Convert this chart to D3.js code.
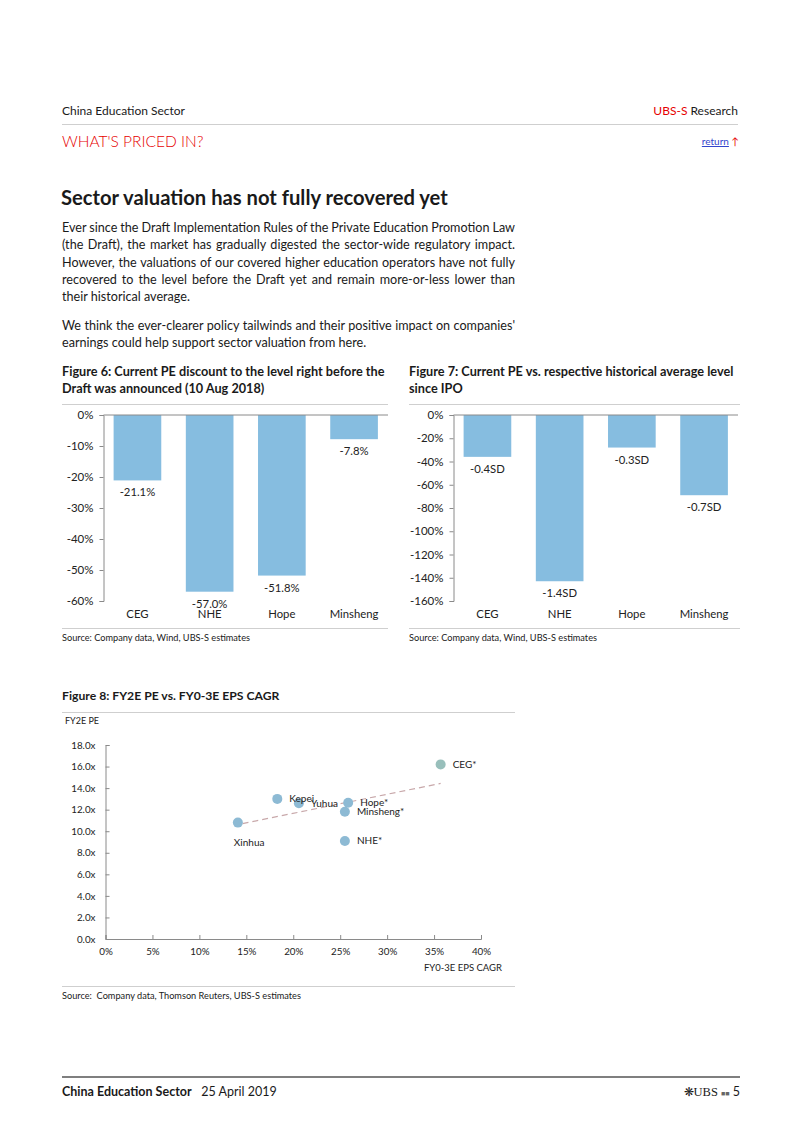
<!DOCTYPE html>
<html>
<head>
<meta charset="utf-8">
<script src="https://cdn.jsdelivr.net/npm/d3@7"></script>
<style>
  html, body { margin: 0; padding: 0; background: #fff; }
  #page { position: relative; width: 802px; height: 1133px; overflow: hidden; font-family: "Lato", "Open Sans", sans-serif; color: #1a1a1a; }
  .abs { position: absolute; white-space: nowrap; }
  .para div { white-space: nowrap; height: 17.3px; line-height: 17.3px; }
  svg { position: absolute; left: 0; top: 0; }
</style>
</head>
<body>
<div id="page">
  <div class="abs" style="left:62px; top:103px; font-size:12px;">China Education Sector</div>
  <div class="abs" style="right:64px; top:103px; font-size:12px;"><span style="color:#e60000">UBS-S</span> Research</div>
  <div class="abs" style="left:62px; top:132px; font-size:15.5px; color:#e60000; font-weight:300;">WHAT'S PRICED IN?</div>
  <div class="abs" style="right:63px; top:135px; font-size:10px;"><span style="color:#3344cc; text-decoration:underline;">return</span> <span style="color:#e60000">&#8593;</span></div>
  <div class="abs" style="left:61px; top:185px; font-size:20.2px; font-weight:bold;">Sector valuation has not fully recovered yet</div>
  <div class="abs para" style="left:62px; top:219px; font-size:12.6px;">
    <div class="j">Ever since the Draft Implementation Rules of the Private Education Promotion Law</div>
    <div class="j">(the Draft), the market has gradually digested the sector-wide regulatory impact.</div>
    <div class="j">However, the valuations of our covered higher education operators have not fully</div>
    <div class="j">recovered to the level before the Draft yet and remain more-or-less lower than</div>
    <div>their historical average.</div>
  </div>
  <div class="abs para" style="left:62px; top:317px; font-size:12.6px;">
    <div class="j">We think the ever-clearer policy tailwinds and their positive impact on companies'</div>
    <div>earnings could help support sector valuation from here.</div>
  </div>
  <div class="abs" style="left:62px; top:363px; font-size:12.7px; font-weight:bold; line-height:17px;">Figure 6: Current PE discount to the level right before the<br>Draft was announced (10 Aug 2018)</div>
  <div class="abs" style="left:409px; top:363px; font-size:12.7px; font-weight:bold; line-height:17px;">Figure 7: Current PE vs. respective historical average level<br>since IPO</div>
  <div class="abs" style="left:62px; top:632px; font-size:9.2px;">Source: Company data, Wind, UBS-S estimates</div>
  <div class="abs" style="left:409px; top:632px; font-size:9.2px;">Source: Company data, Wind, UBS-S estimates</div>
  <div class="abs" style="left:62px; top:688px; font-size:12.2px; font-weight:bold;">Figure 8: FY2E PE vs. FY0-3E EPS CAGR</div>
  <div class="abs" style="left:62px; top:990px; font-size:9.2px;">Source:&nbsp; Company data, Thomson Reuters, UBS-S estimates</div>
  <div class="abs" style="left:62px; top:1084px; font-size:12.5px;"><b>China Education Sector</b>&nbsp;&nbsp; 25 April 2019</div>
  <div class="abs" style="right:62px; top:1084px; font-size:12.5px;"><span style="font-size:12px;">&#10059;</span><span style="font-family:'Liberation Serif',serif;">UBS</span> <span style="font-size:7px;color:#666;">&#9632;&#9632;</span> 5</div>
  <svg id="chart" width="802" height="1133"></svg>
</div>
<script>
// ---------- DATA ----------
const categories = ["CEG", "NHE", "Hope", "Minsheng"];
const fig6Values = [-21.1, -57.0, -51.8, -7.8];
const fig6Labels = ["-21.1%", "-57.0%", "-51.8%", "-7.8%"];
const fig6Ticks = [0, -10, -20, -30, -40, -50, -60];
const fig7Values = [-36, -143, -28, -69];
const fig7Labels = ["-0.4SD", "-1.4SD", "-0.3SD", "-0.7SD"];
const fig7Ticks = [0, -20, -40, -60, -80, -100, -120, -140, -160];
const scatterNames = ["Xinhua", "Kepei", "Yuhua", "Hope*", "Minsheng*", "NHE*", "CEG*"];
const scatterCagr = [14.1, 18.3, 20.6, 25.85, 25.5, 25.5, 35.7];
const scatterPE = [10.8, 13.0, 12.6, 12.65, 11.8, 9.1, 16.2];
const scatterXTicks = [0, 5, 10, 15, 20, 25, 30, 35, 40];
const scatterYTicks = [0, 2, 4, 6, 8, 10, 12, 14, 16, 18];

// justify paragraph lines to 453px
document.querySelectorAll(".para div.j").forEach(el => {
  const natural = el.getBoundingClientRect().width;
  const span = document.createElement("span");
  span.textContent = el.textContent;
  el.textContent = "";
  el.appendChild(span);
  const w = span.getBoundingClientRect().width;
  const spaces = (span.textContent.match(/ /g) || []).length;
  if (spaces) el.style.wordSpacing = ((453 - w) / spaces) + "px";
});

const svg = d3.select("#chart");
const TXT = "#222";
const AX = "#8a8a8a";
const BAR = "#86bde0";
const RULE = "#cfcfcf";

function rule(x1, x2, y, color, w) {
  svg.append("line").attr("x1", x1).attr("x2", x2).attr("y1", y).attr("y2", y)
    .attr("stroke", color).attr("stroke-width", w || 1);
}
rule(62, 738, 124.5, RULE);
rule(62, 388, 404.5, RULE);
rule(62, 388, 628.5, RULE);
rule(409, 740, 404.5, RULE);
rule(409, 740, 628.5, RULE);
rule(62, 515, 712.5, RULE);
rule(62, 515, 986.5, RULE);
rule(62, 740, 1077, "#555", 1.3);

function barChart(opts) {
  const { left, right, top, bottom, values, labels, ticks, fmt } = opts;
  const g = svg.append("g");
  const x = d3.scaleBand().domain(categories).range([left, right]).paddingInner(0.34).paddingOuter(0.14);
  const y = d3.scaleLinear().domain([ticks[ticks.length - 1], 0]).range([bottom, top]);
  g.selectAll("rect").data(values).join("rect")
    .attr("x", (d, i) => x(categories[i]))
    .attr("width", x.bandwidth())
    .attr("y", y(0))
    .attr("height", d => y(d) - y(0))
    .attr("fill", BAR);
  const ya = g.append("g").attr("transform", `translate(${left},0)`)
    .call(d3.axisLeft(y).tickValues(ticks).tickSize(4).tickFormat(fmt));
  ya.select(".domain").attr("stroke", AX);
  ya.selectAll(".tick line").attr("stroke", AX);
  ya.selectAll(".tick text").attr("fill", TXT).attr("font-size", 11.5).attr("font-family", "Lato, sans-serif").attr("x", -10);
  g.append("line").attr("x1", left).attr("x2", right).attr("y1", y(0)).attr("y2", y(0)).attr("stroke", AX);
  g.selectAll("text.val").data(values).join("text").attr("class", "val")
    .attr("x", (d, i) => x(categories[i]) + x.bandwidth() / 2)
    .attr("y", d => y(d) + 16)
    .attr("text-anchor", "middle").attr("font-size", 11.3).attr("fill", TXT)
    .attr("font-family", "Lato, sans-serif")
    .text((d, i) => labels[i]);
  g.selectAll("text.cat").data(categories).join("text").attr("class", "cat")
    .attr("x", d => x(d) + x.bandwidth() / 2)
    .attr("y", bottom + 17)
    .attr("text-anchor", "middle").attr("font-size", 11.3).attr("fill", TXT)
    .attr("font-family", "Lato, sans-serif")
    .text(d => d);
}
barChart({ left: 103.5, right: 388, top: 415, bottom: 601, values: fig6Values, labels: fig6Labels, ticks: fig6Ticks, fmt: d => d + "%" });
barChart({ left: 453.5, right: 738, top: 415, bottom: 601, values: fig7Values, labels: fig7Labels, ticks: fig7Ticks, fmt: d => d + "%" });

// ---------- scatter ----------
(function () {
  const g = svg.append("g").attr("font-family", "Lato, sans-serif");
  const x = d3.scaleLinear().domain([0, 40]).range([105.5, 481]);
  const y = d3.scaleLinear().domain([0, 18]).range([939, 745]);
  const xa = g.append("g").attr("transform", "translate(0,939)")
    .call(d3.axisBottom(x).tickValues(scatterXTicks).tickSize(-4).tickPadding(9).tickFormat(d => d + "%"));
  const ya = g.append("g").attr("transform", "translate(105.5,0)")
    .call(d3.axisLeft(y).tickValues(scatterYTicks).tickSize(-4).tickPadding(10).tickFormat(d => d.toFixed(1) + "x"));
  [xa, ya].forEach(a => {
    a.select(".domain").attr("stroke", AX);
    a.selectAll(".tick line").attr("stroke", AX);
    a.selectAll(".tick text").attr("fill", TXT).attr("font-size", 9.8).attr("font-family", "Lato, sans-serif");
  });
  g.append("text").attr("x", 65).attr("y", 724).attr("font-size", 9).attr("fill", TXT).text("FY2E PE");
  g.append("text").attr("x", 502).attr("y", 971).attr("text-anchor", "end").attr("font-size", 9.5).attr("fill", TXT).text("FY0-3E EPS CAGR");

  // least squares trend line
  const n = scatterCagr.length;
  const mx = d3.mean(scatterCagr), my = d3.mean(scatterPE);
  let sxy = 0, sxx = 0;
  for (let i = 0; i < n; i++) { sxy += (scatterCagr[i] - mx) * (scatterPE[i] - my); sxx += (scatterCagr[i] - mx) ** 2; }
  const slope = sxy / sxx, icpt = my - slope * mx;
  const x0 = d3.min(scatterCagr) + 0.5, x1 = d3.max(scatterCagr);
  g.append("line").attr("x1", x(x0)).attr("y1", y(icpt + slope * x0)).attr("x2", x(x1)).attr("y2", y(icpt + slope * x1))
    .attr("stroke", "#c8a8aa").attr("stroke-width", 1.2).attr("stroke-dasharray", "6,4");

  g.selectAll("circle").data(scatterNames).join("circle")
    .attr("cx", (d, i) => x(scatterCagr[i]))
    .attr("cy", (d, i) => y(scatterPE[i]))
    .attr("r", 5)
    .attr("fill", d => d === "CEG*" ? "#98bfbb" : "#8dbad4");
  g.selectAll("text.lbl").data(scatterNames).join("text").attr("class", "lbl")
    .attr("x", (d, i) => d === "Xinhua" ? x(scatterCagr[i]) - 4 : x(scatterCagr[i]) + 12)
    .attr("y", (d, i) => d === "Xinhua" ? y(scatterPE[i]) + 23 : y(scatterPE[i]) + 3.5)
    .attr("font-size", 10).attr("fill", TXT)
    .text(d => d);
})();
</script>
</body>
</html>
